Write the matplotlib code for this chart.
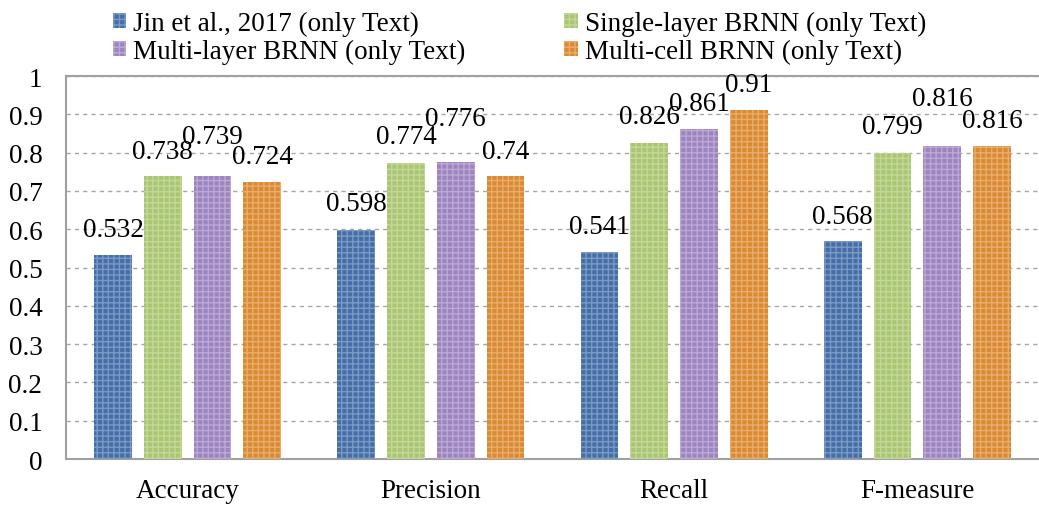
import matplotlib.pyplot as plt
import numpy as np

# DATA ------------------------------------------------------------------------
metrics = ["Accuracy", "Precision", "Recall", "F-measure"]
series_names = ["Jin et al., 2017 (only Text)",
                "Single-layer BRNN (only Text)",
                "Multi-layer BRNN (only Text)",
                "Multi-cell BRNN (only Text)"]
jin = [0.532, 0.598, 0.541, 0.568]
single_layer = [0.738, 0.774, 0.826, 0.799]
multi_layer = [0.739, 0.776, 0.861, 0.816]
multi_cell = [0.724, 0.74, 0.91, 0.816]
label_texts = [["0.532", "0.598", "0.541", "0.568"],
               ["0.738", "0.774", "0.826", "0.799"],
               ["0.739", "0.776", "0.861", "0.816"],
               ["0.724", "0.74", "0.91", "0.816"]]

# how far above each bar its number sits (some are pushed up to dodge)
label_lift = [[0.066, 0.068, 0.065, 0.066],
              [0.066, 0.067, 0.067, 0.068],
              [0.104, 0.114, 0.066, 0.124],
              [0.065, 0.064, 0.069, 0.067]]

colors = ["#436EA8", "#AAC671", "#9D84C0", "#DC8A31"]

# PLOT ------------------------------------------------------------------------
plt.rcParams['font.family'] = ['Liberation Serif', 'DejaVu Serif']
plt.rcParams['hatch.linewidth'] = 1.0

fig = plt.figure(figsize=(10.39, 5.06), dpi=100)
ax = fig.add_axes([0.0635, 0.0909, 0.9365, 0.7569])

all_series = [jin, single_layer, multi_layer, multi_cell]
x = np.arange(len(metrics))
step = 0.2045
width = 0.156
bars = []
for i, vals in enumerate(all_series):
    pos = x + (i - 1.5) * step
    b = ax.bar(pos, vals, width, color=colors[i], edgecolor=(1, 1, 1, 0.3),
               linewidth=0, hatch="+++", label=series_names[i], zorder=3)
    bars.append(b)
    for j in range(len(vals)):
        ax.text(pos[j], vals[j] + label_lift[i][j], label_texts[i][j],
                ha="center", va="center", fontsize=19.5, zorder=4)

ax.set_xlim(-0.5, 3.5)
ax.set_ylim(0, 1)
ax.set_yticks(np.arange(0, 1.01, 0.1))
ax.set_yticklabels(["0", "0.1", "0.2", "0.3", "0.4", "0.5", "0.6", "0.7", "0.8", "0.9", "1"])
ax.set_xticks(x)
ax.set_xticklabels(metrics)
ax.tick_params(axis="y", length=0, pad=17, labelsize=19.5)
ax.tick_params(axis="x", length=0, pad=14, labelsize=19.5)

ax.yaxis.grid(True, linestyle=(0, (3, 3)), color="#A6A6A6", linewidth=1, zorder=0)
ax.set_axisbelow(True)
for s in ["left", "bottom", "top"]:
    ax.spines[s].set_color("#A0A0A0")
    ax.spines[s].set_linewidth(1.5)
ax.spines["right"].set_visible(False)

# legend rows: Jin / Single on top, Multi-layer / Multi-cell below
order = [0, 2, 1, 3]
fig.legend([bars[k] for k in order], [series_names[k] for k in order],
           loc="upper center", bbox_to_anchor=(0.5, 1.025), ncol=2, frameon=False,
           fontsize=19.5, handlelength=0.5, handleheight=0.5, handletextpad=0.25,
           labelspacing=0.12, columnspacing=3.65)

fig.savefig("out.png", dpi=100)
